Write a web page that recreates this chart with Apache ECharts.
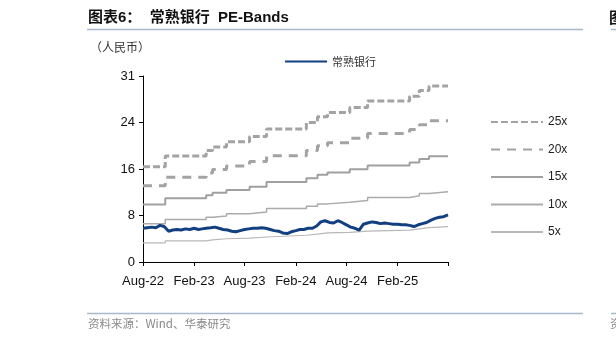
<!DOCTYPE html>
<html><head><meta charset="utf-8">
<script src="https://cdn.jsdelivr.net/npm/echarts@6/dist/echarts.min.js"></script>
<style>html,body{margin:0;padding:0;background:#fff}#c{width:616px;height:344px}</style>
</head><body><div id="c"></div>
<script>
// ---- data ----
const priceDates = [
'2022-08-01','2022-08-16','2022-09-01','2022-09-16','2022-10-01','2022-10-16','2022-11-01','2022-11-16','2022-12-01','2022-12-16',
'2023-01-01','2023-01-16','2023-02-01','2023-02-16','2023-03-01','2023-03-16','2023-04-01','2023-04-16','2023-05-01','2023-05-16',
'2023-06-01','2023-06-16','2023-07-01','2023-07-16','2023-08-01','2023-08-16','2023-09-01','2023-09-16','2023-10-01','2023-10-16',
'2023-11-01','2023-11-16','2023-12-01','2023-12-16','2024-01-01','2024-01-16','2024-02-01','2024-02-16','2024-03-01','2024-03-16',
'2024-04-01','2024-04-16','2024-05-01','2024-05-16','2024-06-01','2024-06-16','2024-07-01','2024-07-16','2024-08-01','2024-08-16',
'2024-09-01','2024-09-16','2024-10-01','2024-10-16','2024-11-01','2024-11-16','2024-12-01','2024-12-16','2025-01-01','2025-01-16',
'2025-02-01','2025-02-16','2025-03-01','2025-03-16','2025-04-01','2025-04-16','2025-05-01','2025-05-16','2025-06-01','2025-06-16',
'2025-07-01','2025-07-16','2025-08-01'];
const priceValues = [
5.8,5.9,6.0,5.9,6.3,6.1,5.3,5.5,5.6,5.5,
5.7,5.6,5.8,5.6,5.7,5.8,5.9,6.0,5.8,5.6,
5.5,5.3,5.2,5.4,5.6,5.7,5.8,5.8,5.9,5.8,
5.6,5.4,5.3,5.0,4.9,5.2,5.4,5.6,5.6,5.8,
5.8,6.2,6.9,7.1,6.8,6.7,7.1,6.8,6.4,6.0,
5.8,5.5,6.5,6.7,6.9,6.8,6.6,6.7,6.6,6.5,
6.5,6.4,6.4,6.3,6.1,6.4,6.6,6.8,7.2,7.5,
7.7,7.8,8.1];

const bandDates = ['2022-08-01','2022-10-20','2023-03-16','2023-04-08','2023-05-28','2023-08-19','2023-10-19','2024-03-10',
'2024-04-19','2024-05-25','2024-08-13','2024-10-16','2025-03-16','2025-04-20','2025-05-25','2025-08-01'];
const band25 = [16.4,18.25,19.2,19.8,20.7,21.6,22.9,24.0,25.0,25.7,26.6,27.7,28.5,29.5,30.3,30.3];
const band20 = [13.1,14.6,15.3,15.9,16.5,17.3,18.3,19.2,20.0,20.5,21.3,22.1,22.8,23.6,24.3,24.3];
const band15 = [9.9,10.95,11.5,11.9,12.4,12.95,13.75,14.4,15.0,15.4,15.95,16.6,17.1,17.7,18.2,18.2];
const band10 = [6.6,7.3,7.7,7.9,8.3,8.6,9.2,9.6,10.0,10.3,10.6,11.1,11.4,11.8,12.1,12.1];
const band5  = [3.3,3.65,3.8,4.0,4.1,4.3,4.6,4.8,5.0,5.1,5.3,5.5,5.7,5.9,6.1,6.1];

const xTickDates  = ['2022-08-01','2023-02-01','2023-08-01','2024-02-01','2024-08-01','2025-02-01','2025-08-01'];
const xTickLabels = ['Aug-22','Feb-23','Aug-23','Feb-24','Aug-24','Feb-25',''];
const yTickLabels = ['0','8','16','24','31'];
const bandNames = ['25x','20x','15x','10x','5x'];

// ---- chart ----
function ts(s){const p=s.split('-');return Date.UTC(+p[0],+p[1]-1,+p[2]);}
function pairs(d,v){return d.map((x,i)=>[ts(x),v[i]]);}
const tickTs = xTickDates.map(ts);

const LAT = '"Liberation Sans", Arial, "Noto Sans CJK SC", sans-serif';
const CJK = '"Noto Sans CJK SC", "Liberation Sans", sans-serif';
const gray = '#a3a3a3';

function band(name, vals, color, width, type){
  return {name, type:'line', step:'end', symbol:'none', silent:true,
    data: pairs(bandDates, vals),
    lineStyle:{color, width, type, cap:'butt'}, itemStyle:{color}, z:2};
}

const chart = echarts.init(document.getElementById('c'), null, {renderer:'canvas'});
chart.setOption({
  animation:false,
  backgroundColor:'#fff',
  title:{text:'图表6：  常熟银行  PE-Bands', left:88, top:10, padding:0,
    textStyle:{fontSize:15, fontWeight:'bold', color:'#111', fontFamily:LAT}},
  grid:{left:143, right:168, top:76, bottom:82},
  legend:[
    {data:[{name:'常熟银行', itemStyle:{opacity:0}}], left:284, top:56, padding:0,
     itemWidth:42, itemHeight:12, itemGap:10,
     textStyle:{fontSize:11, color:'#333', fontFamily:CJK}},
    {data:bandNames.map(n=>({name:n, itemStyle:{opacity:0}})), orient:'vertical', left:490, top:116, padding:0,
     itemWidth:52, itemHeight:14, itemGap:15.5,
     textStyle:{fontSize:12, color:'#222', fontFamily:LAT}}
  ],
  xAxis:{type:'value', min:tickTs[0], max:tickTs[tickTs.length-1],
    axisLine:{lineStyle:{color:'#000', width:1}},
    axisTick:{show:true, length:4, lineStyle:{color:'#000'}, customValues:tickTs},
    axisLabel:{customValues:tickTs.slice(0,6), margin:13, fontSize:13, color:'#111', fontFamily:LAT,
      formatter:(v)=>{const i=tickTs.indexOf(v);return i>=0?xTickLabels[i]:'';}},
    splitLine:{show:false}},
  yAxis:{type:'value', min:0, max:32, interval:8,
    axisLine:{show:true, lineStyle:{color:'#000', width:1}},
    axisTick:{show:true, length:4, lineStyle:{color:'#000'}},
    axisLabel:{margin:8, fontSize:13, color:'#111', fontFamily:LAT,
      formatter:(v)=>yTickLabels[Math.round(v/8)]},
    splitLine:{show:false}},
  series:[
    band('25x', band25, gray, 3, [7,3]),
    band('20x', band20, gray, 3, [9,7]),
    band('15x', band15, '#a0a0a0', 2, 'solid'),
    band('10x', band10, '#ababab', 1.5, 'solid'),
    band('5x',  band5,  '#b8b8b8', 1.2, 'solid'),
    {name:'常熟银行', type:'line', symbol:'none', data:pairs(priceDates, priceValues),
     lineStyle:{color:'#123f80', width:3}, itemStyle:{color:'#123f80'}, z:5}
  ],
  graphic:[
    {type:'text', left:90, top:41, style:{text:'（人民币）', fontSize:12, fill:'#333', fontFamily:CJK}},
    {type:'line', shape:{x1:87, y1:29.5, x2:583, y2:29.5}, style:{stroke:'#a9b9cb', lineWidth:1.5}},
    {type:'line', shape:{x1:611, y1:29.5, x2:616, y2:29.5}, style:{stroke:'#a9b9cb', lineWidth:1.5}},
    {type:'text', left:609, top:10, style:{text:'图', fontSize:15, fontWeight:'bold', fill:'#111', fontFamily:CJK}},
    {type:'line', shape:{x1:87, y1:313.5, x2:583, y2:313.5}, style:{stroke:'#a9b9cb', lineWidth:1.5}},
    {type:'line', shape:{x1:611, y1:313.5, x2:616, y2:313.5}, style:{stroke:'#a9b9cb', lineWidth:1.5}},
    {type:'text', left:88, top:318, style:{text:'资料来源：Wind、华泰研究', fontSize:11.5, fill:'#8a8a8a', fontFamily:CJK}},
    {type:'text', left:610, top:318, style:{text:'资', fontSize:11.5, fill:'#8a8a8a', fontFamily:CJK}}
  ]
});
</script></body></html>
